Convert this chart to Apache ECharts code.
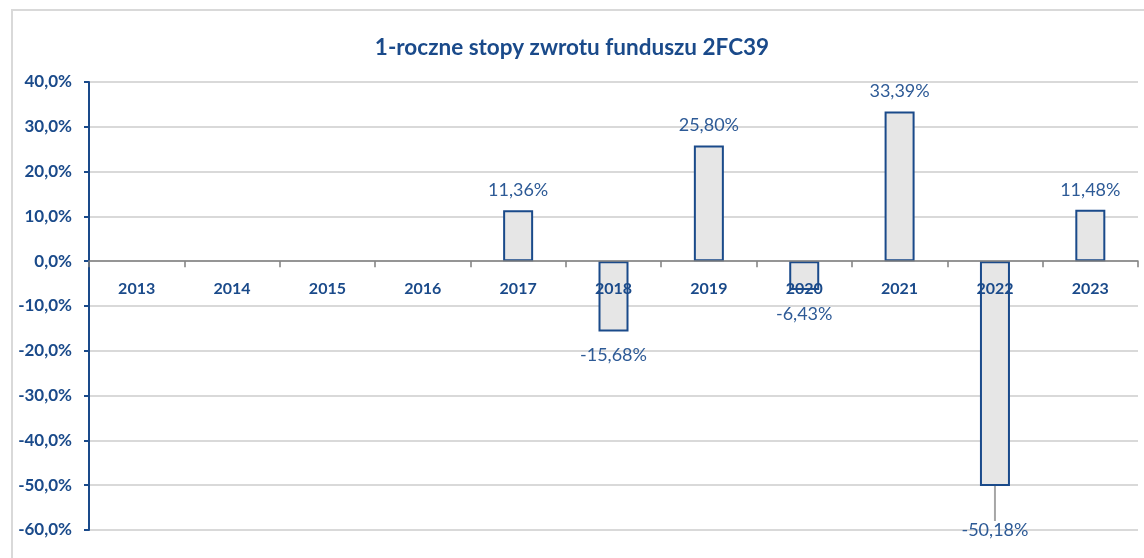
<!DOCTYPE html>
<html>
<head>
<meta charset="utf-8">
<script src="https://cdn.jsdelivr.net/npm/echarts@6/dist/echarts.min.js"></script>
<style>
  html, body { margin: 0; padding: 0; background: #ffffff; }
  #chart { width: 1144px; height: 558px; }
</style>
</head>
<body>
<div id="chart"></div>
<script>
// Annual returns of fund 2FC39 (in %)
const years = ['2013', '2014', '2015', '2016', '2017', '2018', '2019', '2020', '2021', '2022', '2023'];
const returns = [null, null, null, null, 11.36, -15.68, 25.80, -6.43, 33.39, -50.18, 11.48];
const yTicks = [-60, -50, -40, -30, -20, -10, 0, 10, 20, 30, 40];

const NAVY = '#1a4a8a';
const LABEL_BLUE = '#2d5a96';
const FONT = 'Lato, "Open Sans", sans-serif';

const GRID_TOP = 82;
const GRID_BOTTOM = 28;
const CHART_H = 558;

const fmt = (v, d) => v.toFixed(d).replace('.', ',') + '%';

// place the category axis on the zero line
const yMin = yTicks[0];
const yMax = yTicks[yTicks.length - 1];
const plotH = CHART_H - GRID_TOP - GRID_BOTTOM;
const zeroOffset = -plotH * (0 - yMin) / (yMax - yMin);

const chart = echarts.init(document.getElementById('chart'), null, { renderer: 'canvas' });

chart.setOption({
  animation: false,
  backgroundColor: '#ffffff',
  title: {
    text: '1-roczne stopy zwrotu funduszu 2FC39',
    left: 'center',
    top: 31,
    textStyle: { color: NAVY, fontFamily: FONT, fontWeight: 'bold', fontSize: 22.5 }
  },
  graphic: [{
    type: 'rect',
    shape: { x: 12, y: 10, width: 1200, height: 600 },
    style: { fill: 'none', stroke: '#d9d9d9', lineWidth: 2 },
    silent: true
  }],
  grid: { left: 89, right: 6, top: GRID_TOP, bottom: GRID_BOTTOM, containLabel: false },
  xAxis: {
    type: 'category',
    data: years,
    z: 5,
    position: 'bottom',
    offset: zeroOffset,
    axisLine: { onZero: false, lineStyle: { color: '#7f7f7f', width: 1.5 } },
    axisTick: { show: true, alignWithLabel: false, length: 6, lineStyle: { color: '#7f7f7f', width: 1.5 } },
    axisLabel: {
      color: NAVY, fontFamily: FONT, fontWeight: 'bold', fontSize: 16, margin: 20
    },
    splitLine: { show: false }
  },
  yAxis: {
    type: 'value',
    min: yMin,
    max: yMax,
    interval: 10,
    axisLine: { show: true, lineStyle: { color: NAVY, width: 2 } },
    axisTick: { show: true, length: 5, lineStyle: { color: NAVY, width: 2 } },
    axisLabel: {
      color: NAVY, fontFamily: FONT, fontWeight: 'bold', fontSize: 17, margin: 17,
      formatter: v => fmt(v, 1)
    },
    splitLine: { show: true, lineStyle: { color: '#d9d9d9', width: 2 } }
  },
  series: [{
    type: 'bar',
    data: returns.map((v, i) => v === null ? null : {
      value: v,
      label: { position: v >= 0 ? 'top' : 'bottom', distance: v >= 0 ? 11 : 15 },
      labelLine: { show: i === 9 }
    }),
    barWidth: 30,
    itemStyle: { color: '#e6e6e6', borderColor: '#1a4a8a', borderWidth: 2 },
    label: {
      show: true,
      color: LABEL_BLUE,
      fontFamily: FONT,
      fontSize: 18,
      formatter: p => fmt(p.value, 2)
    },
    labelLayout: p => (p.dataIndex === 9 ? { dy: 20 } : {}),
    labelLine: { show: false, lineStyle: { color: '#a6a6a6', width: 2 } }
  }]
});
</script>
</body>
</html>
